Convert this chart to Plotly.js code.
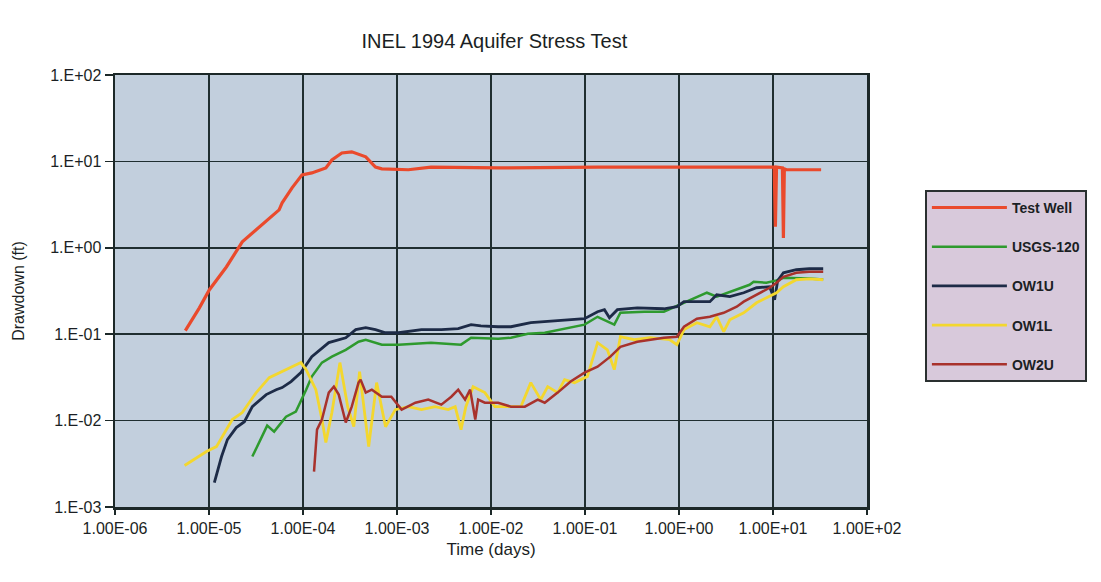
<!DOCTYPE html>
<html>
<head>
<meta charset="utf-8">
<script src="https://cdn.plot.ly/plotly-3.0.1.min.js"></script>
<style>
  html, body { margin: 0; padding: 0; background: #ffffff; }
  #chart { width: 1101px; height: 582px; }
</style>
</head>
<body>
<div id="chart"></div>
<script>
// ---- Data (time in days, drawdown in ft) ----
const xTickVals = [1e-6, 1e-5, 1e-4, 1e-3, 1e-2, 1e-1, 1e0, 1e1, 1e2];
const xTickText = ["1.00E-06", "1.00E-05", "1.00E-04", "1.00E-03", "1.00E-02", "1.00E-01", "1.00E+00", "1.00E+01", "1.00E+02"];
const yTickVals = [1e-3, 1e-2, 1e-1, 1e0, 1e1, 1e2];
const yTickText = ["1.E-03", "1.E-02", "1.E-01", "1.E+00", "1.E+01", "1.E+02"];

const seriesNames = ["Test Well", "USGS-120", "OW1U", "OW1L", "OW2U"];

const testWellTime = [5.6e-6, 7.9e-6, 1.01e-5, 1.53e-5, 2.26e-5, 3.42e-5, 5.57e-5, 6.0e-5, 7.65e-5, 9.76e-5, 1.24e-4, 1.75e-4, 2.03e-4, 2.59e-4, 3.30e-4, 4.65e-4, 5.9e-4, 6.9e-4, 1.32e-3, 2.3e-3, 0.0119, 0.136, 1.55, 8.5, 10.3, 10.6, 10.9, 12.6, 12.9, 13.2, 13.9, 32.5];
const testWellDrawdown = [0.110, 0.202, 0.327, 0.60, 1.17, 1.75, 2.75, 3.31, 4.94, 6.98, 7.36, 8.41, 10.4, 12.5, 12.9, 11.3, 8.6, 8.2, 8.0, 8.6, 8.4, 8.6, 8.6, 8.6, 8.6, 1.75, 8.6, 8.4, 1.3, 8.2, 8.0, 8.0];

const usgsTime = [2.89e-5, 3.42e-5, 4.16e-5, 4.93e-5, 5.85e-5, 6.6e-5, 8.4e-5, 9.5e-5, 1.08e-4, 1.24e-4, 1.59e-4, 2.03e-4, 2.85e-4, 3.9e-4, 4.65e-4, 6.9e-4, 1.04e-3, 2.3e-3, 4.8e-3, 6.14e-3, 0.0119, 0.0163, 0.0247, 0.0373, 0.055, 0.0988, 0.136, 0.205, 0.238, 0.427, 0.69, 1.03, 1.98, 2.52, 3.47, 5.64, 6.22, 8.5, 10.9, 12.9, 24.3, 34.2];
const usgsDrawdown = [0.00384, 0.00557, 0.00875, 0.00746, 0.0095, 0.0111, 0.0127, 0.0166, 0.0228, 0.0323, 0.0469, 0.055, 0.066, 0.0819, 0.0863, 0.0757, 0.0757, 0.0798, 0.0757, 0.0912, 0.0887, 0.0912, 0.101, 0.104, 0.113, 0.129, 0.159, 0.129, 0.177, 0.182, 0.182, 0.219, 0.302, 0.272, 0.310, 0.373, 0.404, 0.394, 0.42, 0.45, 0.44, 0.43];

const ow1uTime = [1.14e-5, 1.36e-5, 1.57e-5, 1.95e-5, 2.38e-5, 2.89e-5, 4.06e-5, 5.18e-5, 6.0e-5, 7.46e-5, 9.5e-5, 1.24e-4, 1.88e-4, 2.85e-4, 3.64e-4, 4.65e-4, 5.9e-4, 7.55e-4, 1.04e-3, 1.82e-3, 2.96e-3, 4.48e-3, 6.14e-3, 7.8e-3, 0.0119, 0.0163, 0.0265, 0.0607, 0.0988, 0.136, 0.161, 0.182, 0.221, 0.36, 0.69, 0.95, 1.13, 2.13, 2.52, 3.47, 4.88, 6.68, 9.2, 10.4, 11.2, 12.9, 17.7, 24.3, 34.2];
const ow1uDrawdown = [0.00192, 0.00384, 0.00603, 0.0083, 0.0097, 0.0145, 0.0200, 0.0228, 0.0241, 0.0283, 0.0359, 0.055, 0.080, 0.091, 0.113, 0.119, 0.113, 0.104, 0.104, 0.113, 0.113, 0.116, 0.129, 0.125, 0.122, 0.122, 0.136, 0.147, 0.151, 0.182, 0.192, 0.155, 0.192, 0.202, 0.197, 0.208, 0.238, 0.238, 0.286, 0.272, 0.302, 0.345, 0.354, 0.25, 0.415, 0.514, 0.557, 0.572, 0.572];

const ow1lTime = [5.5e-6, 9.4e-6, 1.20e-5, 1.46e-5, 1.77e-5, 2.26e-5, 3.18e-5, 4.37e-5, 6.0e-5, 8.4e-5, 9.5e-5, 1.08e-4, 1.37e-4, 1.59e-4, 1.75e-4, 2.03e-4, 2.47e-4, 2.99e-4, 3.47e-4, 4.0e-4, 4.65e-4, 5.0e-4, 6.07e-4, 7.55e-4, 9.6e-4, 1.32e-3, 1.82e-3, 2.55e-3, 3.5e-3, 4.16e-3, 4.8e-3, 5.4e-3, 6.45e-3, 8.6e-3, 0.0110, 0.0163, 0.0208, 0.0265, 0.0338, 0.0401, 0.0512, 0.0607, 0.0774, 0.106, 0.136, 0.173, 0.205, 0.238, 0.334, 0.493, 0.80, 0.95, 1.13, 1.55, 2.13, 2.52, 2.99, 3.47, 4.88, 6.68, 9.2, 10.9, 12.9, 17.7, 24.3, 34.2];
const ow1lDrawdown = [0.00302, 0.00439, 0.0050, 0.00726, 0.0103, 0.0124, 0.0211, 0.0314, 0.0368, 0.0444, 0.0469, 0.0389, 0.0228, 0.0103, 0.00557, 0.0124, 0.0469, 0.0145, 0.0085, 0.0368, 0.0103, 0.0050, 0.0275, 0.0085, 0.0134, 0.0145, 0.0134, 0.0145, 0.0134, 0.0145, 0.00787, 0.0145, 0.0247, 0.0211, 0.0145, 0.0145, 0.0145, 0.0275, 0.0175, 0.0247, 0.0211, 0.0298, 0.0275, 0.0323, 0.0798, 0.066, 0.0389, 0.0935, 0.0863, 0.0912, 0.0863, 0.0757, 0.113, 0.136, 0.122, 0.159, 0.107, 0.147, 0.177, 0.231, 0.272, 0.302, 0.354, 0.427, 0.438, 0.427];

const ow2uTime = [1.31e-4, 1.41e-4, 1.59e-4, 1.88e-4, 2.13e-4, 2.40e-4, 2.85e-4, 3.30e-4, 3.9e-4, 4.1e-4, 4.65e-4, 5.4e-4, 6.9e-4, 8.7e-4, 1.12e-3, 1.57e-3, 2.15e-3, 2.96e-3, 3.78e-3, 4.48e-3, 5.3e-3, 6.0e-3, 6.8e-3, 7.3e-3, 8.6e-3, 0.0119, 0.0163, 0.0229, 0.0314, 0.0373, 0.0512, 0.0703, 0.0988, 0.136, 0.186, 0.238, 0.36, 0.69, 0.95, 1.13, 1.55, 2.13, 2.99, 4.11, 4.88, 6.68, 9.2, 10.9, 12.9, 17.7, 24.3, 34.2];
const ow2uDrawdown = [0.00257, 0.00787, 0.0103, 0.0211, 0.0247, 0.0200, 0.0095, 0.0145, 0.0275, 0.0298, 0.0211, 0.0228, 0.0189, 0.0189, 0.0134, 0.0161, 0.0175, 0.0153, 0.0189, 0.0228, 0.0175, 0.0228, 0.0103, 0.0175, 0.0161, 0.0161, 0.0145, 0.0145, 0.0175, 0.0161, 0.0211, 0.0283, 0.0359, 0.0421, 0.055, 0.0716, 0.0819, 0.0912, 0.0935, 0.122, 0.151, 0.159, 0.177, 0.208, 0.238, 0.286, 0.345, 0.394, 0.462, 0.514, 0.528, 0.528];

const seriesColors = ["#ea4a2c", "#2e9a2e", "#1d2b47", "#f3d72e", "#a8322c"];
const seriesWidths = [3.2, 2.5, 2.8, 2.8, 2.5];

const xs = [testWellTime, usgsTime, ow1uTime, ow1lTime, ow2uTime];
const ys = [testWellDrawdown, usgsDrawdown, ow1uDrawdown, ow1lDrawdown, ow2uDrawdown];

const FONT = "'Liberation Sans', Arial, Helvetica, sans-serif";
const TEXT_COLOR = "#1b1f24";

const traces = seriesNames.map((name, i) => ({
  type: "scatter",
  mode: "lines",
  name: name,
  legendgroup: name,
  x: xs[i],
  y: ys[i],
  line: { color: seriesColors[i], width: seriesWidths[i] },
  hoverinfo: "x+y+name"
}));

const axisCommon = {
  type: "log",
  showgrid: true,
  gridcolor: "#1f2e30",
  gridwidth: 1.6,
  showline: true,
  linecolor: "#1c2828",
  linewidth: 2.5,
  mirror: true,
  ticks: "outside",
  tickwidth: 1.5,
  tickcolor: "#1c2828",
  zeroline: false,
  tickfont: { family: FONT, size: 16, color: TEXT_COLOR }
};

const layout = {
  width: 1101,
  height: 582,
  paper_bgcolor: "#ffffff",
  plot_bgcolor: "#c2cfdd",
  margin: { l: 115, r: 234, t: 75, b: 75 },
  title: {
    text: "INEL 1994 Aquifer Stress Test",
    font: { family: FONT, size: 20, color: TEXT_COLOR },
    x: 0.449, xref: "container", xanchor: "center",
    y: 0.93, yref: "container", yanchor: "middle"
  },
  xaxis: Object.assign({}, axisCommon, {
    range: [-6, 2],
    ticklen: 5,
    tickvals: xTickVals,
    ticktext: xTickText,
    title: { text: "Time (days)", font: { family: FONT, size: 17, color: TEXT_COLOR }, standoff: 8 }
  }),
  yaxis: Object.assign({}, axisCommon, {
    range: [-3, 2],
    ticklen: 8,
    tickvals: yTickVals,
    ticktext: yTickText,
    title: { text: "Drawdown (ft)", font: { family: FONT, size: 16, color: TEXT_COLOR }, standoff: 22 }
  }),
  showlegend: true,
  legend: {
    x: 1.077, xanchor: "left",
    y: 0.734, yanchor: "top",
    bgcolor: "#d8c9db",
    bordercolor: "#2a3030",
    borderwidth: 2,
    itemwidth: 75,
    traceorder: "grouped",
    tracegroupgap: 18,
    font: { family: FONT, size: 14, color: TEXT_COLOR, weight: "bold" }
  }
};

Plotly.newPlot("chart", traces, layout, { displayModeBar: false, staticPlot: true });
</script>
</body>
</html>
